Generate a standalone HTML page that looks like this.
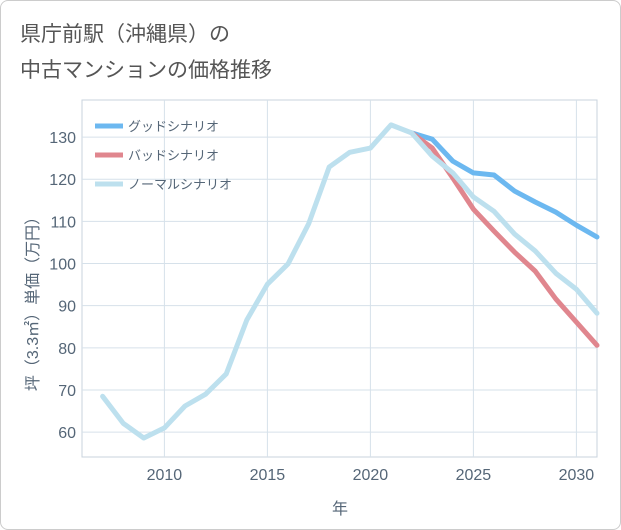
<!DOCTYPE html>
<html><head><meta charset="utf-8"><style>
body{margin:0;background:#fff;}
#card{position:absolute;left:0;top:0;width:619px;height:528px;border:1px solid #ccc;border-radius:8px;background:#fff;}
.t{position:absolute;left:20px;font-family:"Liberation Sans","Noto Sans CJK JP",sans-serif;font-size:21px;color:#555;}
svg text{font-family:"Liberation Sans","Noto Sans CJK JP",sans-serif;}
</style></head><body>
<div id="card"></div>
<div class="t" style="top:18px">県庁前駅（沖縄県）の</div>
<div class="t" style="top:54px">中古マンションの価格推移</div>
<svg id="chart" width="621" height="530" style="position:absolute;left:0;top:0"></svg>
<script>
const years=[2007,2008,2009,2010,2011,2012,2013,2014,2015,2016,2017,2018,2019,2020,2021,2022];
const normalPast=[68.5,62.1,58.6,61,66.2,69,73.8,86.6,95.1,99.9,109.4,122.9,126.4,127.4,132.9,131];
const futureYears=[2022,2023,2024,2025,2026,2027,2028,2029,2030,2031];
const goodVals=[131,129.5,124.3,121.5,121,117.2,114.6,112.2,109.1,106.3];
const badVals=[131,127.4,120.3,112.9,107.7,102.7,98.2,91.6,86.1,80.6];
const normalVals=[131,125.5,121.5,115.8,112.4,107,103,97.7,93.9,88.2];
const xTicks=[2010,2015,2020,2025,2030];
const yTicks=[60,70,80,90,100,110,120,130];
const L=82,R=597,T=100,B=457,x0=2006,x1=2031,y0=54.1,y1=138.8;
const X=v=>L+(v-x0)/(x1-x0)*(R-L);
const Y=v=>B-(v-y0)/(y1-y0)*(B-T);
const svg=document.getElementById('chart');const NS='http://www.w3.org/2000/svg';
function mk(tag,attrs,parent){const e=document.createElementNS(NS,tag);for(const k in attrs)e.setAttribute(k,attrs[k]);(parent||svg).appendChild(e);return e;}
const frame=mk('rect',{x:L,y:T,width:R-L,height:B-T,fill:'none',stroke:'#c8d3dd'});


xTicks.forEach(t=>{const g=mk('line',{x1:X(t),x2:X(t),y1:T,y2:B,stroke:'#d6e1ea'});


const tx=mk('text',{x:X(t),y:480,'text-anchor':'middle','font-size':16,fill:'#556677'});tx.textContent=t;

});
yTicks.forEach(t=>{const g=mk('line',{x1:L,x2:R,y1:Y(t),y2:Y(t),stroke:'#d6e1ea'});


const tx=mk('text',{x:76,y:Y(t)+6,'text-anchor':'end','font-size':16,fill:'#556677'});tx.textContent=t;

});
const xt=mk('text',{x:340,y:514,'text-anchor':'middle','font-size':16,fill:'#556677'});xt.textContent='年';


const yt=mk('text',{x:0,y:0,'text-anchor':'middle','font-size':16,fill:'#556677',transform:'translate(38,300) rotate(-90)'});yt.textContent='坪（3.3㎡）単価（万円）';


function line(xs,vs,color,name){const p=mk('polyline',{points:xs.map((x,i)=>X(x)+','+Y(vs[i])).join(' '),fill:'none',stroke:color,'stroke-width':5,'stroke-linejoin':'round','stroke-linecap':'round'});

}
line(futureYears,goodVals,'#6cb8f0','good-scenario-line');
line(futureYears,badVals,'#e0868e','bad-scenario-line');
line(futureYears,normalVals,'#bde0ee','normal-scenario-line');
line(years,normalPast,'#bde0ee','historical-line');
const leg=[['グッドシナリオ','#6cb8f0'],['バッドシナリオ','#e0868e'],['ノーマルシナリオ','#bde0ee']];
leg.forEach((l,i)=>{const y=126+i*29;const g=mk('g',{});


mk('line',{x1:95,x2:123,y1:y,y2:y,stroke:l[1],'stroke-width':5},g);
const t=mk('text',{x:128,y:y+5,'font-size':13,fill:'#556677'},g);t.textContent=l[0];});
</script>
</body></html>
